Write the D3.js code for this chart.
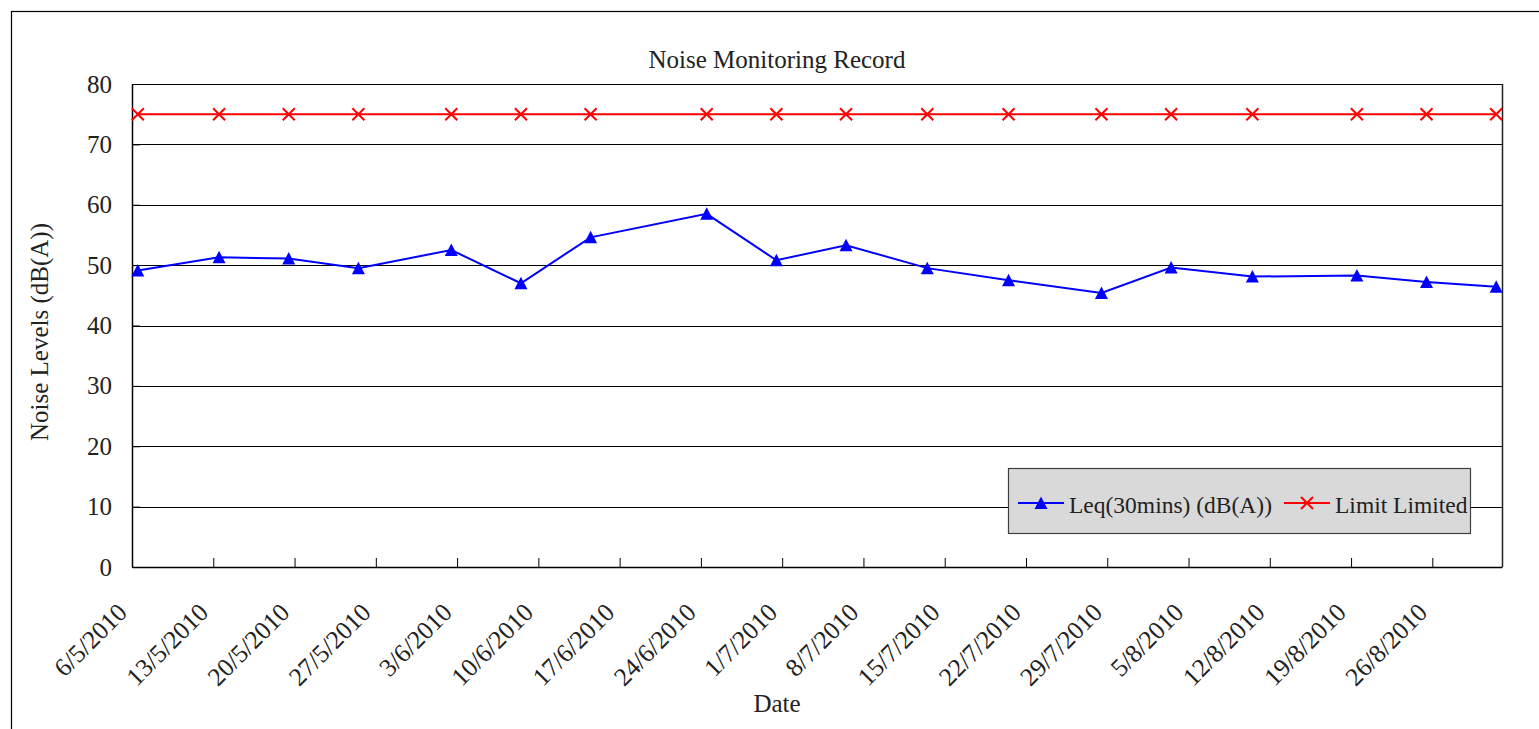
<!DOCTYPE html>
<html>
<head>
<meta charset="utf-8">
<script src="https://cdn.jsdelivr.net/npm/d3@7"></script>
<style>
  body { margin: 0; background: #fff; }
  text { font-family: "Liberation Serif", "Times New Roman", serif; fill: #222; }
</style>
</head>
<body>
<svg id="chart" width="1539" height="729"></svg>
<script>
var svg = d3.select("#chart");

// data
var dates = ["6/5/2010", "13/5/2010", "19/5/2010", "25/5/2010", "2/6/2010", "8/6/2010",
             "14/6/2010", "24/6/2010", "30/6/2010", "6/7/2010", "13/7/2010", "20/7/2010",
             "28/7/2010", "3/8/2010", "10/8/2010", "19/8/2010", "25/8/2010", "31/8/2010"];
var leq = [49.1, 51.3, 51.1, 49.5, 52.5, 47.0, 54.6, 58.5, 50.8, 53.3, 49.5, 47.5,
           45.4, 49.6, 48.1, 48.3, 47.2, 46.4];
var limit = [75, 75, 75, 75, 75, 75, 75, 75, 75, 75, 75, 75, 75, 75, 75, 75, 75, 75];
var yTicks = [0, 10, 20, 30, 40, 50, 60, 70, 80];
var axisStart = "6/5/2010", axisEnd = "1/9/2010";

var parse = d3.timeParse("%d/%m/%Y");
var fmt = d3.timeFormat("%-d/%-m/%Y");

var plotLeft = 132, plotRight = 1502, plotTop = 84, plotBottom = 567;

var x = d3.scaleTime()
  .domain([parse(axisStart), parse(axisEnd)])
  .range([plotLeft, plotRight]);
var y = d3.scaleLinear()
  .domain([0, 80])
  .range([plotBottom, plotTop]);

// points sit in the middle of their day
var xd = function(s) { return x(d3.timeHour.offset(parse(s), 12)); };

// outer frame
svg.append("rect")
  .attr("x", 11.5).attr("y", 11.5)
  .attr("width", 1700).attr("height", 900)
  .attr("fill", "none").attr("stroke", "#000").attr("stroke-width", 1.2);

// title
svg.append("text")
  .attr("x", 777).attr("y", 68)
  .attr("text-anchor", "middle")
  .style("font-size", "25px")
  .text("Noise Monitoring Record");

// gridlines
svg.append("g")
  .selectAll("line")
  .data(yTicks)
  .enter()
  .append("line")
    .attr("x1", plotLeft).attr("x2", plotRight)
    .attr("y1", d => Math.round(y(d)) + 0.5)
    .attr("y2", d => Math.round(y(d)) + 0.5)
    .attr("stroke", "#000").attr("stroke-width", 1);

// plot frame right side
svg.append("line")
  .attr("x1", plotRight + 0.5).attr("x2", plotRight + 0.5)
  .attr("y1", plotTop).attr("y2", plotBottom)
  .attr("stroke", "#222").attr("stroke-width", 1.5);

// y axis
var yAxis = svg.append("g")
  .attr("transform", "translate(" + plotLeft + ",0)")
  .call(d3.axisLeft(y).tickValues(yTicks).tickSizeInner(-8).tickSizeOuter(0).tickPadding(20));
yAxis.select(".domain").attr("stroke", "#000").attr("stroke-width", 1.5);
yAxis.selectAll(".tick line").attr("stroke", "#000");
yAxis.selectAll(".tick text")
  .style("font-size", "25px")
  .style("font-family", "'Liberation Serif', serif")
  .attr("fill", "#222");

// x axis
var xAxis = svg.append("g")
  .attr("transform", "translate(0," + plotBottom + ")")
  .call(d3.axisBottom(x)
    .tickValues(d3.timeThursday.range(parse(axisStart), parse(axisEnd)))
    .tickFormat(fmt)
    .tickSizeInner(-9).tickSizeOuter(0));
xAxis.select(".domain").attr("stroke", "#000").attr("stroke-width", 1.5);
xAxis.selectAll(".tick line").attr("stroke", "#000");
xAxis.selectAll(".tick text")
  .attr("text-anchor", "end")
  .attr("x", 0).attr("y", 0).attr("dy", null)
  .attr("transform", "translate(-4,47) rotate(-45)")
  .style("font-size", "25.5px")
  .style("font-family", "'Liberation Serif', serif")
  .attr("fill", "#222");

// axis titles
svg.append("text")
  .attr("x", 777).attr("y", 712)
  .attr("text-anchor", "middle")
  .style("font-size", "25px")
  .text("Date");

svg.append("text")
  .attr("transform", "translate(48," + 332 + ") rotate(-90)")
  .attr("text-anchor", "middle")
  .style("font-size", "25px")
  .text("Noise Levels (dB(A))");

// series
var line = d3.line()
  .x((d, i) => xd(dates[i]))
  .y(d => y(d));

svg.append("path")
  .datum(limit)
  .attr("d", line)
  .attr("fill", "none").attr("stroke", "#ff0000").attr("stroke-width", 2);

svg.append("path")
  .datum(leq)
  .attr("d", line)
  .attr("fill", "none").attr("stroke", "#0000ff").attr("stroke-width", 2);

var triPath = "M0,-6.5L6.5,6L-6.5,6Z";
var crossPath = "M-6,-6L6,6M-6,6L6,-6";

svg.append("g")
  .selectAll("path")
  .data(limit)
  .enter()
  .append("path")
    .attr("d", crossPath)
    .attr("transform", (d, i) => "translate(" + xd(dates[i]) + "," + y(d) + ")")
    .attr("stroke", "#ff0000").attr("stroke-width", 2).attr("fill", "none");

svg.append("g")
  .selectAll("path")
  .data(leq)
  .enter()
  .append("path")
    .attr("d", triPath)
    .attr("transform", (d, i) => "translate(" + xd(dates[i]) + "," + y(d) + ")")
    .attr("fill", "#0000ff");

// legend
var legendData = [
  {label: "Leq(30mins) (dB(A))", color: "#0000ff", marker: triPath, fill: true, x: 1018},
  {label: "Limit Limited", color: "#ff0000", marker: crossPath, fill: false, x: 1284}
];

var legend = svg.append("g");
legend.append("rect")
  .attr("x", 1008.5).attr("y", 468.5)
  .attr("width", 462).attr("height", 65)
  .attr("fill", "#d9d9d9").attr("stroke", "#404040").attr("stroke-width", 1.2);

var item = legend.selectAll("g.item")
  .data(legendData)
  .enter()
  .append("g")
    .attr("class", "item")
    .attr("transform", d => "translate(" + d.x + ",503)");

item.append("line")
  .attr("x1", 0).attr("x2", 46)
  .attr("stroke", d => d.color).attr("stroke-width", 2);

item.append("path")
  .attr("d", d => d.marker)
  .attr("transform", "translate(23,0)")
  .attr("fill", d => d.fill ? d.color : "none")
  .attr("stroke", d => d.fill ? "none" : d.color)
  .attr("stroke-width", 2);

item.append("text")
  .attr("x", 51).attr("y", 10)
  .style("font-size", "23.5px")
  .text(d => d.label);
</script>
</body>
</html>
